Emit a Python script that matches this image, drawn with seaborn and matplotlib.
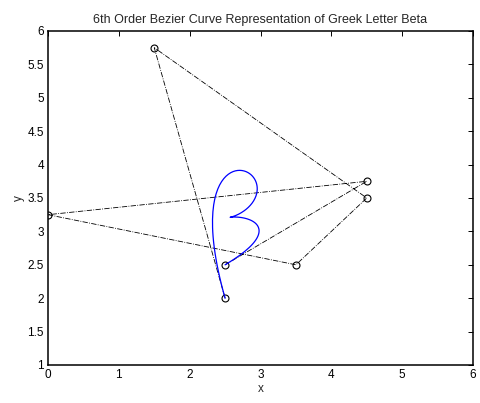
import numpy as np
import pandas as pd
import matplotlib
matplotlib.use("Agg")
import matplotlib.pyplot as plt
import seaborn as sns
from math import comb

# Control points of the 6th order Bezier curve
ctrl_x = [2.5, 1.5, 4.5, 3.5, 0.0, 4.5, 2.5]
ctrl_y = [2.0, 5.75, 3.5, 2.5, 3.25, 3.75, 2.5]
title = "6th Order Bezier Curve Representation of Greek Letter Beta"
x_ticks = [0, 1, 2, 3, 4, 5, 6]
y_ticks = [1, 1.5, 2, 2.5, 3, 3.5, 4, 4.5, 5, 5.5, 6]

# Bezier curve defined by the control points
n = len(ctrl_x) - 1
t = np.linspace(0, 1, 201)
bern = np.array([comb(n, i) * t**i * (1 - t)**(n - i) for i in range(n + 1)])
curve_x = bern.T @ np.array(ctrl_x)
curve_y = bern.T @ np.array(ctrl_y)

poly_df = pd.DataFrame({"x": ctrl_x, "y": ctrl_y})
curve_df = pd.DataFrame({"x": curve_x, "y": curve_y})

sns.set_style("white")
plt.rcParams["font.family"] = ["Liberation Sans", "DejaVu Sans"]
plt.rcParams["font.size"] = 8.5

fig = plt.figure(figsize=(4.81, 4.03), dpi=100)
ax = fig.add_axes([0.0998, 0.0943, 0.8836, 0.8288])

sns.lineplot(data=poly_df, x="x", y="y", sort=False, estimator=None, ax=ax,
             color="black", linestyle="-.", linewidth=0.6, marker="o",
             markersize=5, markerfacecolor="none", markeredgecolor="black",
             markeredgewidth=0.8)
sns.lineplot(data=curve_df, x="x", y="y", sort=False, estimator=None, ax=ax,
             color="#0000ff", linewidth=0.9)

ax.set_xlim(0, 6)
ax.set_ylim(1, 6)
ax.set_xticks(x_ticks)
ax.set_xticklabels([str(v) for v in x_ticks])
ax.set_yticks(y_ticks)
ax.set_yticklabels([f"{v:g}" for v in y_ticks])
ax.tick_params(direction="in", length=3.5, width=0.7, top=True, right=True,
               labelsize=8.5, colors="black", pad=3)
for s in ax.spines.values():
    s.set_color("black")
    s.set_linewidth(1.1)
ax.set_xlabel("x", fontsize=8.5, labelpad=1)
ax.set_ylabel("y", fontsize=8.5, labelpad=2)
ax.set_title(title, fontsize=9, pad=6)

fig.savefig("out.png", dpi=100)
